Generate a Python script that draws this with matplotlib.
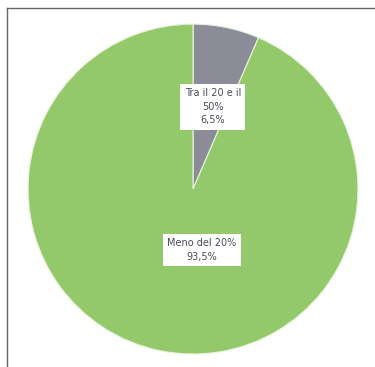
# pie chart: share of respondents (Italian labels)
import matplotlib
matplotlib.use("Agg")
import matplotlib.pyplot as plt
from matplotlib.lines import Line2D

labels = ["Tra il 20 e il\n50%", "Meno del 20%"]
shares = [6.5, 93.5]
share_text = ["6,5%", "93,5%"]
colors = ["#8c8c98", "#93c96b"]

fig = plt.figure(figsize=(3.75, 3.67), dpi=100)
fig.patch.set_facecolor("white")

ax = fig.add_axes([0.0747, 0.0354, 0.88, 0.899])
wedges, _ = ax.pie(shares, colors=colors, startangle=90, counterclock=False,
                   radius=1.0, wedgeprops=dict(edgecolor="#e8f4dc", linewidth=0.8))
ax.set_xlim(-1, 1)
ax.set_ylim(-1, 1)
ax.set_aspect("equal")
ax.axis("off")

# label boxes placed inside the slices
label_pos = [(0.12, 0.50), (0.055, -0.37)]
for lab, pct, (x, y) in zip(labels, share_text, label_pos):
    ax.text(x, y, f"{lab}\n{pct}", ha="center", va="center", fontsize=7,
            color="#4a4a5a", linespacing=1.45,
            bbox=dict(boxstyle="square,pad=0.45", facecolor="white", edgecolor="none"))

# frame lines at the left and top edges
fig.add_artist(Line2D([0.0187, 0.0187], [0, 0.978], color="#666666", linewidth=1.0))
fig.add_artist(Line2D([0.0187, 1.0], [0.978, 0.978], color="#666666", linewidth=1.0))

fig.savefig("out.png", dpi=100)
